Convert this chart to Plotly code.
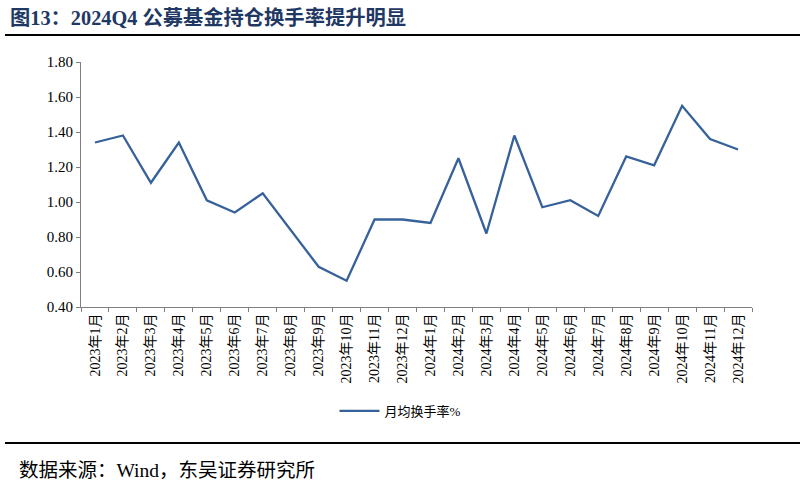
import plotly.graph_objects as go

months = [f"2023年{m}月" for m in range(1, 13)] + [f"2024年{m}月" for m in range(1, 13)]
turnover = [1.34, 1.38, 1.11, 1.34, 1.01, 0.94, 1.05, 0.84, 0.63, 0.55, 0.90, 0.90,
            0.88, 1.25, 0.82, 1.38, 0.97, 1.01, 0.92, 1.26, 1.21, 1.55, 1.36, 1.30]
series_name = "月均换手率%"
title_text = "图13：2024Q4 公募基金持仓换手率提升明显"
source_text = "数据来源：Wind，东吴证券研究所"
y_ticks = [0.4, 0.6, 0.8, 1.0, 1.2, 1.4, 1.6, 1.8]

FONT = "Times New Roman, Liberation Serif, Noto Sans CJK SC, serif"

fig = go.Figure()
fig.add_trace(go.Scatter(
    x=months, y=turnover, mode="lines", name=series_name,
    line=dict(color="#36619A", width=2.3),
))

L, R, T, B = 81, 53, 62, 183
W, H = 805, 490
pw, ph = W - L - R, H - T - B

def px(x):
    return (x - L) / pw

def py(y):
    return (H - B - y) / ph

fig.update_layout(
    width=W, height=H,
    margin=dict(l=L, r=R, t=T, b=B, autoexpand=False),
    paper_bgcolor="white", plot_bgcolor="white",
    font=dict(family=FONT, size=14, color="#000000"),
    showlegend=True,
    legend=dict(orientation="h", x=px(400), y=py(411), xanchor="center", yanchor="middle",
                font=dict(family=FONT, size=13), itemwidth=40),
    xaxis=dict(
        type="category", range=[-0.5, len(months) - 0.5],
        showgrid=False, showline=True, linecolor="#7f7f7f", linewidth=1,
        ticks="outside", tickson="boundaries", ticklen=4, tickcolor="#7f7f7f",
        tickangle=-90, tickfont=dict(family=FONT, size=14), zeroline=False,
        automargin=False,
    ),
    yaxis=dict(
        range=[0.4, 1.8], tickvals=y_ticks, tickformat=".2f", showgrid=False,
        showline=True, linecolor="#7f7f7f", linewidth=1, ticks="outside", ticklen=4,
        tickcolor="#7f7f7f", tickfont=dict(family=FONT, size=15), zeroline=False,
        automargin=False,
    ),
    shapes=[
        dict(type="line", xref="paper", yref="paper", x0=px(5), x1=px(800), y0=py(35), y1=py(35),
             line=dict(color="#000000", width=2)),
        dict(type="line", xref="paper", yref="paper", x0=px(5), x1=px(800), y0=py(443), y1=py(443),
             line=dict(color="#000000", width=2)),
    ],
    annotations=[
        dict(text=f"<b>{title_text}</b>", xref="paper", yref="paper", x=px(8), y=py(17),
             xanchor="left", yanchor="middle", showarrow=False,
             font=dict(family=FONT, size=20.3, color="#1F3864")),
        dict(text=source_text, xref="paper", yref="paper", x=px(17), y=py(470),
             xanchor="left", yanchor="middle", showarrow=False,
             font=dict(family=FONT, size=19.5, color="#000000")),
    ],
)

fig.write_html("out.html", config={"displayModeBar": False},
               post_script="document.body.style.margin='0px';document.body.style.overflow='hidden';")
